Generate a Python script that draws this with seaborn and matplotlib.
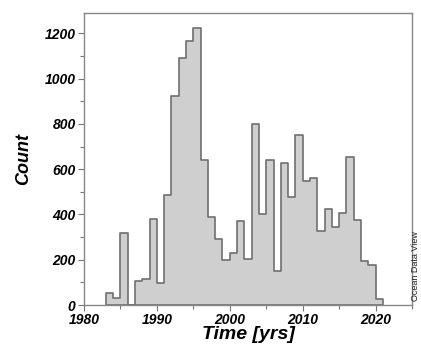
import matplotlib
matplotlib.use("Agg")
import matplotlib.pyplot as plt
import seaborn as sns
import pandas as pd
from matplotlib.ticker import MultipleLocator

years = [1983, 1984, 1985, 1986, 1987, 1988, 1989, 1990, 1991, 1992, 1993, 1994,
         1995, 1996, 1997, 1998, 1999, 2000, 2001, 2002, 2003, 2004, 2005, 2006,
         2007, 2008, 2009, 2010, 2011, 2012, 2013, 2014, 2015, 2016, 2017, 2018,
         2019, 2020]
counts = [55, 33, 320, 0, 108, 114, 381, 99, 484, 924, 1091, 1166,
          1225, 642, 390, 291, 199, 229, 369, 202, 800, 400, 642, 152,
          626, 477, 753, 546, 562, 325, 424, 345, 406, 654, 375, 195,
          177, 25]
xticks = [1980, 1990, 2000, 2010, 2020]
yticks = [0, 200, 400, 600, 800, 1000, 1200]

sns.set_style("ticks")
plt.rcParams['font.family'] = ['Liberation Sans', 'DejaVu Sans']
plt.rcParams['text.color'] = 'black'
plt.rcParams['axes.labelcolor'] = 'black'
plt.rcParams['xtick.labelcolor'] = 'black'
plt.rcParams['ytick.labelcolor'] = 'black'

df = pd.DataFrame({"year": years, "count": counts})

fig = plt.figure(figsize=(4.21, 3.45), dpi=100)
ax = fig.add_axes([0.1995, 0.1159, 0.7791, 0.8464])

sns.histplot(data=df, x="year", weights="count", binwidth=1, binrange=(1983, 2021),
             element="step", fill=True,
             color="#cfcfcf", edgecolor="#707070", linewidth=1.2, alpha=1, ax=ax)

ax.set_xlim(1980, 2025)
ax.set_ylim(0, 1290)
ax.set_xticks(xticks)
ax.set_xticklabels([str(t) for t in xticks])
ax.set_yticks(yticks)
ax.set_yticklabels([str(t) for t in yticks])
ax.xaxis.set_minor_locator(MultipleLocator(5))
ax.yaxis.set_minor_locator(MultipleLocator(100))
for lab in ax.get_xticklabels() + ax.get_yticklabels():
    lab.set_fontweight("bold")
    lab.set_fontstyle("italic")
    lab.set_fontsize(10)
    lab.set_color("black")
ax.tick_params(axis="both", which="major", length=4, width=0.8, color="#777777", pad=2)
ax.tick_params(axis="both", which="minor", length=3, width=0.8, color="#777777")
for s in ax.spines.values():
    s.set_visible(True)
    s.set_color("#888888")
    s.set_linewidth(1.0)

ax.set_xlabel("Time [yrs]", fontsize=14, fontweight="bold", fontstyle="italic",
              labelpad=-1, color="black")
ax.set_ylabel("Count", fontsize=13, fontweight="bold", fontstyle="italic",
              labelpad=9, color="black")

fig.text(0.998, 0.128, "Ocean Data View", rotation=90, fontsize=6.5,
         ha="right", va="bottom", color="#222222")

fig.savefig("out.png", dpi=100)
